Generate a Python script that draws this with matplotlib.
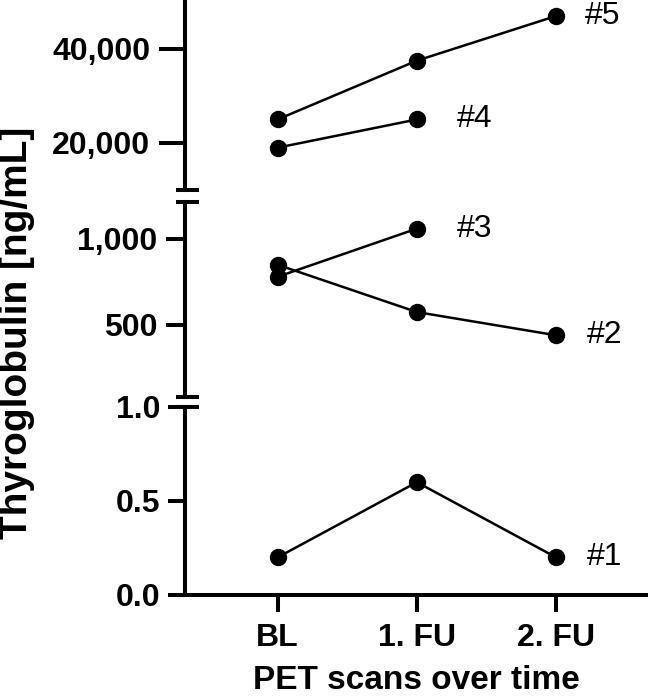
import matplotlib.pyplot as plt
from matplotlib.ticker import FuncFormatter

plt.rcParams['font.family'] = ['Liberation Sans', 'DejaVu Sans']

# scan time points
scans = ['BL', '1. FU', '2. FU']
xpos = [1, 2, 3]

# thyroglobulin per patient [ng/mL]
p1 = [0.2, 0.6, 0.2]
p2 = [850, 575, 440]
p3 = [780, 1060]
p4 = [19000, 25000]
p5 = [25000, 37500, 47000]

fig = plt.figure(figsize=(6.48, 7.0), dpi=100)
left, width = 185 / 648, 1 - 185 / 648

ax_top = fig.add_axes([left, 1 - 190 / 700, width, 190 / 700])
ax_mid = fig.add_axes([left, 1 - 397 / 700, width, 195 / 700])
ax_bot = fig.add_axes([left, 1 - 595 / 700, width, 188 / 700])

lw_spine = 2.9
tick_fs = 23
line_kw = dict(color='black', lw=1.8, marker='o', ms=11.5, clip_on=False)

for ax in (ax_top, ax_mid, ax_bot):
    ax.set_xlim(0.335, 3.66)
    ax.patch.set_alpha(0)
    for s in ('top', 'right'):
        ax.spines[s].set_visible(False)
    ax.spines['left'].set_linewidth(lw_spine)
    ax.spines['bottom'].set_linewidth(lw_spine)
    ax.tick_params(axis='y', width=lw_spine, pad=6, labelsize=tick_fs)

for ax in (ax_top, ax_mid):
    ax.spines['bottom'].set_visible(False)
    ax.set_xticks([])

# top segment
ax_top.plot(xpos, p5, **line_kw)
ax_top.plot(xpos[:2], p4, **line_kw)
ax_top.set_ylim(10000, 50400)
ax_top.set_yticks([20000, 40000])
ax_top.tick_params(axis='y', length=19)

# middle segment
ax_mid.plot(xpos, p2, **line_kw)
ax_mid.plot(xpos[:2], p3, **line_kw)
ax_mid.set_ylim(81, 1215)
ax_mid.set_yticks([500, 1000])
ax_mid.tick_params(axis='y', length=14)

# bottom segment
ax_bot.plot(xpos, p1, **line_kw)
ax_bot.set_ylim(0, 1.0)
ax_bot.set_yticks([0.0, 0.5, 1.0])
ax_bot.tick_params(axis='y', length=12)
ax_bot.set_xticks(xpos)
ax_bot.set_xticklabels(scans)
ax_bot.tick_params(axis='x', width=lw_spine, length=12, pad=8, labelsize=tick_fs)

fmt_int = FuncFormatter(lambda v, p: f'{int(v):,}')
ax_top.yaxis.set_major_formatter(fmt_int)
ax_mid.yaxis.set_major_formatter(fmt_int)
ax_bot.yaxis.set_major_formatter(FuncFormatter(lambda v, p: f'{v:.1f}'))

for ax in (ax_top, ax_mid, ax_bot):
    for lab in ax.get_yticklabels() + ax.get_xticklabels():
        lab.set_fontweight('bold')

ax_bot.set_xlabel('PET scans over time', fontsize=24, fontweight='bold', labelpad=9)
fig.text(0.027, 1 - 333 / 700, 'Thyroglobulin [ng/mL]', rotation=90,
         ha='center', va='center', fontsize=28, fontweight='bold')

# break marks
def brk(ax, y):
    ax.plot([-0.02, 0.03], [y, y], transform=ax.transAxes, color='black',
            lw=lw_spine, clip_on=False, solid_capstyle='butt')

brk(ax_top, 0)
brk(ax_mid, 1)
brk(ax_mid, 0)
brk(ax_bot, 1)

# patient labels
lab_kw = dict(fontsize=23, va='center', ha='left')
ax_top.text(3.21, p5[2], '#5', **lab_kw)
ax_top.text(2.29, p4[1], '#4', **lab_kw)
ax_mid.text(2.29, p3[1], '#3', **lab_kw)
ax_mid.text(3.22, p2[2], '#2', **lab_kw)
ax_bot.text(3.22, p1[2], '#1', **lab_kw)

fig.savefig('out.png', dpi=100)
